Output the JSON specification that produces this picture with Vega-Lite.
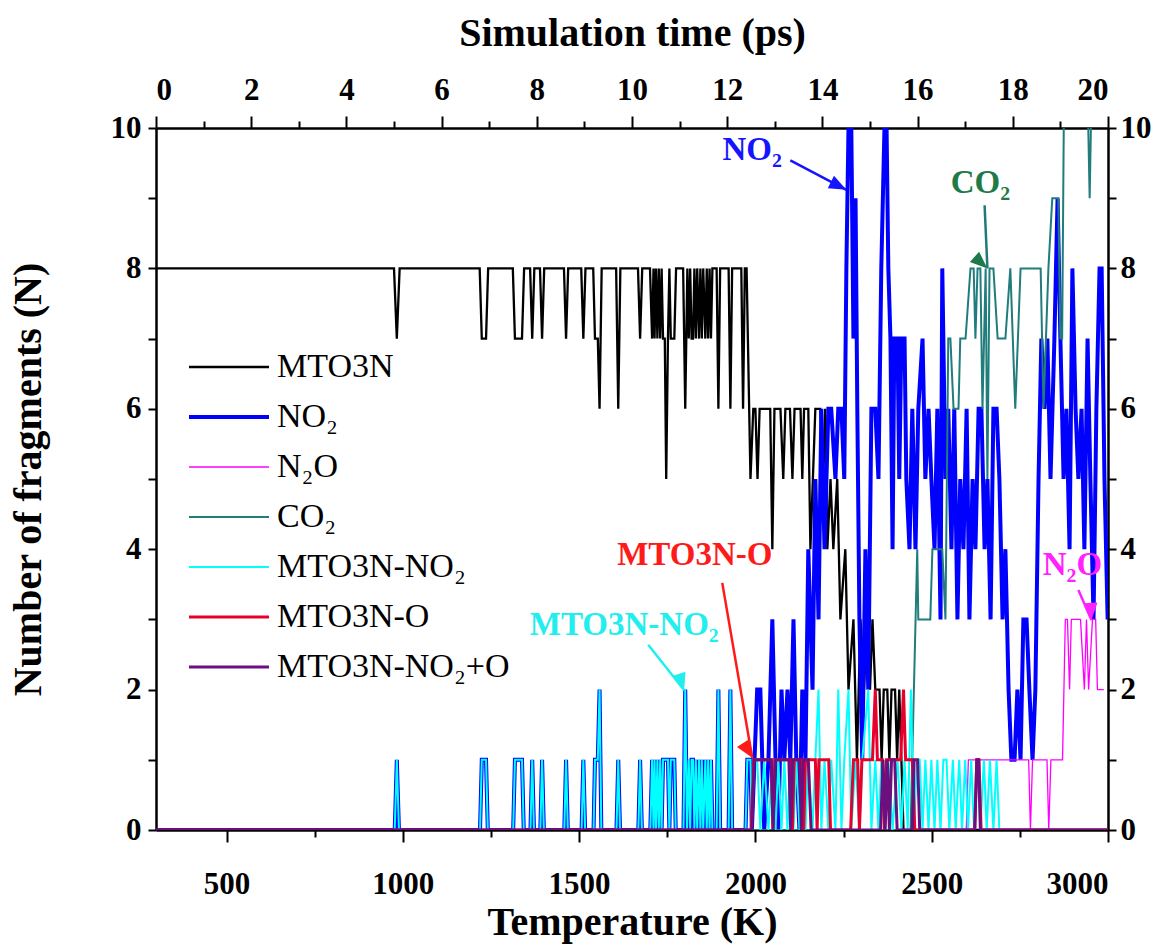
{
"$schema":"https://vega.github.io/schema/vega-lite/v6.json",
"width":952,"height":702,
"autosize":"none",
"padding":{"left":156,"top":128,"right":62,"bottom":114},
"background":"white",
"config":{"view":{"stroke":null},"font":"Liberation Serif",
 "axis":{"grid":false,"domainColor":"black","domainWidth":2.5,"tickColor":"black","tickWidth":2,"labelFont":"Liberation Serif","labelFontWeight":"bold","labelFontSize":31,"labelColor":"black","titleFont":"Liberation Serif","titleFontWeight":"bold","titleFontSize":40,"titleColor":"black"}},
"datasets":{
"lines":[
{"s":"MTO3N","T":300,"N":8},{"s":"MTO3N","T":975,"N":8},{"s":"MTO3N","T":983,"N":7},{"s":"MTO3N","T":991,"N":8},{"s":"MTO3N","T":1218,"N":8},{"s":"MTO3N","T":1224,"N":7},{"s":"MTO3N","T":1236,"N":7},{"s":"MTO3N","T":1242,"N":8},{"s":"MTO3N","T":1312,"N":8},{"s":"MTO3N","T":1318,"N":7},{"s":"MTO3N","T":1338,"N":7},{"s":"MTO3N","T":1344,"N":8},{"s":"MTO3N","T":1361,"N":8},{"s":"MTO3N","T":1367,"N":7},{"s":"MTO3N","T":1373,"N":8},{"s":"MTO3N","T":1389,"N":8},{"s":"MTO3N","T":1395,"N":7},{"s":"MTO3N","T":1401,"N":8},{"s":"MTO3N","T":1457,"N":8},{"s":"MTO3N","T":1463,"N":7},{"s":"MTO3N","T":1469,"N":8},{"s":"MTO3N","T":1506,"N":8},{"s":"MTO3N","T":1512,"N":7},{"s":"MTO3N","T":1518,"N":8},{"s":"MTO3N","T":1540,"N":8},{"s":"MTO3N","T":1545,"N":7},{"s":"MTO3N","T":1553,"N":7},{"s":"MTO3N","T":1558,"N":6},{"s":"MTO3N","T":1564,"N":8},{"s":"MTO3N","T":1605,"N":8},{"s":"MTO3N","T":1611,"N":6},{"s":"MTO3N","T":1617,"N":8},{"s":"MTO3N","T":1667,"N":8},{"s":"MTO3N","T":1673,"N":7},{"s":"MTO3N","T":1679,"N":8},{"s":"MTO3N","T":1701,"N":8},{"s":"MTO3N","T":1707,"N":7},{"s":"MTO3N","T":1711,"N":8},{"s":"MTO3N","T":1714,"N":7},{"s":"MTO3N","T":1718,"N":8},{"s":"MTO3N","T":1722,"N":7},{"s":"MTO3N","T":1726,"N":8},{"s":"MTO3N","T":1730,"N":7},{"s":"MTO3N","T":1734,"N":8},{"s":"MTO3N","T":1738,"N":7},{"s":"MTO3N","T":1743,"N":7},{"s":"MTO3N","T":1747,"N":5},{"s":"MTO3N","T":1752,"N":7},{"s":"MTO3N","T":1756,"N":8},{"s":"MTO3N","T":1760,"N":7},{"s":"MTO3N","T":1770,"N":7},{"s":"MTO3N","T":1775,"N":8},{"s":"MTO3N","T":1795,"N":8},{"s":"MTO3N","T":1801,"N":6},{"s":"MTO3N","T":1807,"N":8},{"s":"MTO3N","T":1811,"N":7},{"s":"MTO3N","T":1815,"N":8},{"s":"MTO3N","T":1819,"N":7},{"s":"MTO3N","T":1823,"N":7},{"s":"MTO3N","T":1827,"N":8},{"s":"MTO3N","T":1831,"N":7},{"s":"MTO3N","T":1835,"N":8},{"s":"MTO3N","T":1840,"N":7},{"s":"MTO3N","T":1844,"N":8},{"s":"MTO3N","T":1848,"N":7},{"s":"MTO3N","T":1852,"N":8},{"s":"MTO3N","T":1858,"N":7},{"s":"MTO3N","T":1862,"N":8},{"s":"MTO3N","T":1866,"N":7},{"s":"MTO3N","T":1870,"N":8},{"s":"MTO3N","T":1874,"N":7},{"s":"MTO3N","T":1878,"N":8},{"s":"MTO3N","T":1890,"N":8},{"s":"MTO3N","T":1895,"N":6},{"s":"MTO3N","T":1900,"N":8},{"s":"MTO3N","T":1924,"N":8},{"s":"MTO3N","T":1929,"N":6},{"s":"MTO3N","T":1934,"N":8},{"s":"MTO3N","T":1960,"N":8},{"s":"MTO3N","T":1965,"N":6},{"s":"MTO3N","T":1970,"N":8},{"s":"MTO3N","T":1975,"N":8},{"s":"MTO3N","T":1986,"N":5},{"s":"MTO3N","T":1994,"N":6},{"s":"MTO3N","T":2000,"N":6},{"s":"MTO3N","T":2006,"N":5},{"s":"MTO3N","T":2012,"N":6},{"s":"MTO3N","T":2042,"N":6},{"s":"MTO3N","T":2048,"N":4},{"s":"MTO3N","T":2054,"N":6},{"s":"MTO3N","T":2071,"N":6},{"s":"MTO3N","T":2079,"N":5},{"s":"MTO3N","T":2085,"N":6},{"s":"MTO3N","T":2098,"N":6},{"s":"MTO3N","T":2105,"N":5},{"s":"MTO3N","T":2111,"N":6},{"s":"MTO3N","T":2128,"N":6},{"s":"MTO3N","T":2133,"N":5},{"s":"MTO3N","T":2138,"N":6},{"s":"MTO3N","T":2150,"N":6},{"s":"MTO3N","T":2156,"N":4},{"s":"MTO3N","T":2163,"N":5},{"s":"MTO3N","T":2170,"N":6},{"s":"MTO3N","T":2184,"N":6},{"s":"MTO3N","T":2192,"N":5},{"s":"MTO3N","T":2198,"N":6},{"s":"MTO3N","T":2204,"N":4},{"s":"MTO3N","T":2213,"N":5},{"s":"MTO3N","T":2221,"N":4},{"s":"MTO3N","T":2232,"N":5},{"s":"MTO3N","T":2241,"N":3},{"s":"MTO3N","T":2255,"N":4},{"s":"MTO3N","T":2264,"N":2},{"s":"MTO3N","T":2278,"N":3},{"s":"MTO3N","T":2288,"N":1},{"s":"MTO3N","T":2298,"N":3},{"s":"MTO3N","T":2308,"N":2},{"s":"MTO3N","T":2317,"N":3},{"s":"MTO3N","T":2325,"N":2},{"s":"MTO3N","T":2332,"N":3},{"s":"MTO3N","T":2340,"N":2},{"s":"MTO3N","T":2352,"N":2},{"s":"MTO3N","T":2358,"N":1},{"s":"MTO3N","T":2364,"N":2},{"s":"MTO3N","T":2374,"N":2},{"s":"MTO3N","T":2380,"N":1},{"s":"MTO3N","T":2386,"N":2},{"s":"MTO3N","T":2396,"N":2},{"s":"MTO3N","T":2402,"N":1},{"s":"MTO3N","T":2408,"N":2},{"s":"MTO3N","T":2414,"N":1},{"s":"MTO3N","T":2420,"N":0},{"s":"MTO3N","T":3000,"N":0},
{"s":"NO₂","T":300,"N":0},{"s":"NO₂","T":977,"N":0},{"s":"NO₂","T":983,"N":1},{"s":"NO₂","T":989,"N":0},{"s":"NO₂","T":1219,"N":0},{"s":"NO₂","T":1224,"N":1},{"s":"NO₂","T":1236,"N":1},{"s":"NO₂","T":1241,"N":0},{"s":"NO₂","T":1313,"N":0},{"s":"NO₂","T":1318,"N":1},{"s":"NO₂","T":1338,"N":1},{"s":"NO₂","T":1343,"N":0},{"s":"NO₂","T":1362,"N":0},{"s":"NO₂","T":1367,"N":1},{"s":"NO₂","T":1372,"N":0},{"s":"NO₂","T":1390,"N":0},{"s":"NO₂","T":1395,"N":1},{"s":"NO₂","T":1400,"N":0},{"s":"NO₂","T":1458,"N":0},{"s":"NO₂","T":1463,"N":1},{"s":"NO₂","T":1468,"N":0},{"s":"NO₂","T":1507,"N":0},{"s":"NO₂","T":1512,"N":1},{"s":"NO₂","T":1517,"N":0},{"s":"NO₂","T":1541,"N":0},{"s":"NO₂","T":1545,"N":1},{"s":"NO₂","T":1553,"N":1},{"s":"NO₂","T":1558,"N":2},{"s":"NO₂","T":1563,"N":0},{"s":"NO₂","T":1606,"N":0},{"s":"NO₂","T":1611,"N":1},{"s":"NO₂","T":1616,"N":0},{"s":"NO₂","T":1668,"N":0},{"s":"NO₂","T":1673,"N":1},{"s":"NO₂","T":1678,"N":0},{"s":"NO₂","T":1702,"N":0},{"s":"NO₂","T":1707,"N":1},{"s":"NO₂","T":1711,"N":0},{"s":"NO₂","T":1714,"N":1},{"s":"NO₂","T":1718,"N":0},{"s":"NO₂","T":1722,"N":1},{"s":"NO₂","T":1726,"N":0},{"s":"NO₂","T":1730,"N":1},{"s":"NO₂","T":1734,"N":0},{"s":"NO₂","T":1738,"N":1},{"s":"NO₂","T":1752,"N":1},{"s":"NO₂","T":1756,"N":0},{"s":"NO₂","T":1760,"N":1},{"s":"NO₂","T":1770,"N":1},{"s":"NO₂","T":1774,"N":0},{"s":"NO₂","T":1796,"N":0},{"s":"NO₂","T":1801,"N":2},{"s":"NO₂","T":1806,"N":0},{"s":"NO₂","T":1811,"N":1},{"s":"NO₂","T":1815,"N":0},{"s":"NO₂","T":1819,"N":1},{"s":"NO₂","T":1823,"N":1},{"s":"NO₂","T":1827,"N":0},{"s":"NO₂","T":1831,"N":1},{"s":"NO₂","T":1835,"N":0},{"s":"NO₂","T":1840,"N":1},{"s":"NO₂","T":1844,"N":0},{"s":"NO₂","T":1848,"N":1},{"s":"NO₂","T":1852,"N":0},{"s":"NO₂","T":1858,"N":1},{"s":"NO₂","T":1862,"N":0},{"s":"NO₂","T":1866,"N":1},{"s":"NO₂","T":1870,"N":0},{"s":"NO₂","T":1874,"N":1},{"s":"NO₂","T":1878,"N":0},{"s":"NO₂","T":1890,"N":0},{"s":"NO₂","T":1895,"N":2},{"s":"NO₂","T":1900,"N":0},{"s":"NO₂","T":1924,"N":0},{"s":"NO₂","T":1929,"N":2},{"s":"NO₂","T":1934,"N":0},{"s":"NO₂","T":1972,"N":0},{"s":"NO₂","T":1977,"N":1},{"s":"NO₂","T":1986,"N":1},{"s":"NO₂","T":1990,"N":0},
{"s":"NO₂","T":2005,"N":2},{"s":"NO₂","T":2014,"N":2},{"s":"NO₂","T":2025,"N":0},{"s":"NO₂","T":2037,"N":1},{"s":"NO₂","T":2048,"N":3},{"s":"NO₂","T":2057,"N":1},{"s":"NO₂","T":2065,"N":0},{"s":"NO₂","T":2074,"N":2},{"s":"NO₂","T":2082,"N":1},{"s":"NO₂","T":2091,"N":2},{"s":"NO₂","T":2099,"N":1},{"s":"NO₂","T":2108,"N":3},{"s":"NO₂","T":2116,"N":1},{"s":"NO₂","T":2125,"N":0},{"s":"NO₂","T":2133,"N":2},{"s":"NO₂","T":2142,"N":1},{"s":"NO₂","T":2150,"N":4},{"s":"NO₂","T":2162,"N":2},{"s":"NO₂","T":2170,"N":5},{"s":"NO₂","T":2179,"N":3},{"s":"NO₂","T":2187,"N":6},{"s":"NO₂","T":2196,"N":4},{"s":"NO₂","T":2207,"N":6},{"s":"NO₂","T":2215,"N":6},{"s":"NO₂","T":2227,"N":5},{"s":"NO₂","T":2235,"N":6},{"s":"NO₂","T":2244,"N":6},{"s":"NO₂","T":2252,"N":5},{"s":"NO₂","T":2258,"N":8},{"s":"NO₂","T":2264,"N":10},{"s":"NO₂","T":2272,"N":10},{"s":"NO₂","T":2278,"N":7},{"s":"NO₂","T":2284,"N":9},{"s":"NO₂","T":2289,"N":6},{"s":"NO₂","T":2295,"N":3},{"s":"NO₂","T":2303,"N":1},{"s":"NO₂","T":2312,"N":4},{"s":"NO₂","T":2320,"N":2},{"s":"NO₂","T":2329,"N":6},{"s":"NO₂","T":2340,"N":6},{"s":"NO₂","T":2349,"N":5},{"s":"NO₂","T":2357,"N":8},{"s":"NO₂","T":2366,"N":10},{"s":"NO₂","T":2372,"N":10},{"s":"NO₂","T":2377,"N":8},{"s":"NO₂","T":2383,"N":7},{"s":"NO₂","T":2389,"N":4},{"s":"NO₂","T":2394,"N":7},{"s":"NO₂","T":2403,"N":7},{"s":"NO₂","T":2408,"N":5},{"s":"NO₂","T":2414,"N":7},{"s":"NO₂","T":2423,"N":7},{"s":"NO₂","T":2428,"N":5},{"s":"NO₂","T":2437,"N":4},{"s":"NO₂","T":2445,"N":6},{"s":"NO₂","T":2454,"N":4},{"s":"NO₂","T":2462,"N":6},{"s":"NO₂","T":2474,"N":7},{"s":"NO₂","T":2482,"N":5},{"s":"NO₂","T":2491,"N":6},{"s":"NO₂","T":2499,"N":5},{"s":"NO₂","T":2508,"N":4},{"s":"NO₂","T":2516,"N":6},{"s":"NO₂","T":2525,"N":3},{"s":"NO₂","T":2530,"N":8},{"s":"NO₂","T":2539,"N":5},{"s":"NO₂","T":2547,"N":6},{"s":"NO₂","T":2556,"N":4},{"s":"NO₂","T":2564,"N":6},{"s":"NO₂","T":2573,"N":3},{"s":"NO₂","T":2581,"N":5},{"s":"NO₂","T":2590,"N":4},{"s":"NO₂","T":2599,"N":6},{"s":"NO₂","T":2607,"N":3},{"s":"NO₂","T":2616,"N":5},{"s":"NO₂","T":2624,"N":4},{"s":"NO₂","T":2633,"N":6},{"s":"NO₂","T":2641,"N":6},{"s":"NO₂","T":2650,"N":4},{"s":"NO₂","T":2658,"N":5},{"s":"NO₂","T":2667,"N":3},{"s":"NO₂","T":2675,"N":6},{"s":"NO₂","T":2684,"N":6},{"s":"NO₂","T":2692,"N":5},{"s":"NO₂","T":2701,"N":3},{"s":"NO₂","T":2709,"N":4},{"s":"NO₂","T":2718,"N":2},{"s":"NO₂","T":2726,"N":1},{"s":"NO₂","T":2735,"N":1},{"s":"NO₂","T":2743,"N":2},{"s":"NO₂","T":2752,"N":1},{"s":"NO₂","T":2760,"N":3},{"s":"NO₂","T":2769,"N":3},{"s":"NO₂","T":2777,"N":2},{"s":"NO₂","T":2786,"N":1},{"s":"NO₂","T":2794,"N":2},{"s":"NO₂","T":2803,"N":5},{"s":"NO₂","T":2811,"N":7},{"s":"NO₂","T":2820,"N":6},{"s":"NO₂","T":2828,"N":7},{"s":"NO₂","T":2837,"N":5},{"s":"NO₂","T":2848,"N":7},{"s":"NO₂","T":2857,"N":9},{"s":"NO₂","T":2865,"N":7},{"s":"NO₂","T":2874,"N":5},{"s":"NO₂","T":2882,"N":6},{"s":"NO₂","T":2891,"N":4},{"s":"NO₂","T":2899,"N":8},{"s":"NO₂","T":2908,"N":6},{"s":"NO₂","T":2916,"N":5},{"s":"NO₂","T":2925,"N":6},{"s":"NO₂","T":2933,"N":4},{"s":"NO₂","T":2942,"N":7},{"s":"NO₂","T":2950,"N":5},{"s":"NO₂","T":2959,"N":3},{"s":"NO₂","T":2967,"N":6},{"s":"NO₂","T":2976,"N":8},{"s":"NO₂","T":2982,"N":8},{"s":"NO₂","T":2990,"N":5},{"s":"NO₂","T":2999,"N":3},
{"s":"N₂O","T":300,"N":0},{"s":"N₂O","T":2598,"N":0},{"s":"N₂O","T":2604,"N":1},{"s":"N₂O","T":2775,"N":1},{"s":"N₂O","T":2780,"N":0},{"s":"N₂O","T":2786,"N":1},{"s":"N₂O","T":2827,"N":1},{"s":"N₂O","T":2832,"N":0},{"s":"N₂O","T":2838,"N":1},{"s":"N₂O","T":2871,"N":1},{"s":"N₂O","T":2879,"N":3},{"s":"N₂O","T":2885,"N":3},{"s":"N₂O","T":2891,"N":2},{"s":"N₂O","T":2896,"N":3},{"s":"N₂O","T":2922,"N":3},{"s":"N₂O","T":2933,"N":2},{"s":"N₂O","T":2939,"N":3},{"s":"N₂O","T":2945,"N":2},{"s":"N₂O","T":2956,"N":3},{"s":"N₂O","T":2965,"N":3},{"s":"N₂O","T":2970,"N":2},{"s":"N₂O","T":2988,"N":2},
{"s":"CO₂","T":300,"N":0},{"s":"CO₂","T":2440,"N":0},{"s":"CO₂","T":2459,"N":4},{"s":"CO₂","T":2462,"N":3},{"s":"CO₂","T":2496,"N":3},{"s":"CO₂","T":2502,"N":4},{"s":"CO₂","T":2530,"N":4},{"s":"CO₂","T":2539,"N":3},{"s":"CO₂","T":2547,"N":7},{"s":"CO₂","T":2553,"N":7},{"s":"CO₂","T":2562,"N":6},{"s":"CO₂","T":2576,"N":6},{"s":"CO₂","T":2581,"N":7},{"s":"CO₂","T":2596,"N":7},{"s":"CO₂","T":2610,"N":8},{"s":"CO₂","T":2619,"N":8},{"s":"CO₂","T":2624,"N":7},{"s":"CO₂","T":2630,"N":8},{"s":"CO₂","T":2638,"N":8},{"s":"CO₂","T":2644,"N":6},{"s":"CO₂","T":2653,"N":8},{"s":"CO₂","T":2658,"N":5},{"s":"CO₂","T":2664,"N":8},{"s":"CO₂","T":2675,"N":8},{"s":"CO₂","T":2687,"N":7},{"s":"CO₂","T":2709,"N":7},{"s":"CO₂","T":2723,"N":8},{"s":"CO₂","T":2737,"N":6},{"s":"CO₂","T":2752,"N":8},{"s":"CO₂","T":2809,"N":8},{"s":"CO₂","T":2817,"N":6},{"s":"CO₂","T":2831,"N":8},{"s":"CO₂","T":2842,"N":9},{"s":"CO₂","T":2859,"N":9},{"s":"CO₂","T":2865,"N":7},{"s":"CO₂","T":2870,"N":7},{"s":"CO₂","T":2876,"N":11},{"s":"CO₂","T":2940,"N":11},{"s":"CO₂","T":2948,"N":9},{"s":"CO₂","T":2955,"N":11},{"s":"CO₂","T":3000,"N":11},
{"s":"MTO3N-NO₂","T":300,"N":0},{"s":"MTO3N-NO₂","T":977,"N":0},{"s":"MTO3N-NO₂","T":983,"N":1},{"s":"MTO3N-NO₂","T":989,"N":0},{"s":"MTO3N-NO₂","T":1219,"N":0},{"s":"MTO3N-NO₂","T":1224,"N":1},{"s":"MTO3N-NO₂","T":1236,"N":1},{"s":"MTO3N-NO₂","T":1241,"N":0},{"s":"MTO3N-NO₂","T":1313,"N":0},{"s":"MTO3N-NO₂","T":1318,"N":1},{"s":"MTO3N-NO₂","T":1338,"N":1},{"s":"MTO3N-NO₂","T":1343,"N":0},{"s":"MTO3N-NO₂","T":1362,"N":0},{"s":"MTO3N-NO₂","T":1367,"N":1},{"s":"MTO3N-NO₂","T":1372,"N":0},{"s":"MTO3N-NO₂","T":1390,"N":0},{"s":"MTO3N-NO₂","T":1395,"N":1},{"s":"MTO3N-NO₂","T":1400,"N":0},{"s":"MTO3N-NO₂","T":1458,"N":0},{"s":"MTO3N-NO₂","T":1463,"N":1},{"s":"MTO3N-NO₂","T":1468,"N":0},{"s":"MTO3N-NO₂","T":1507,"N":0},{"s":"MTO3N-NO₂","T":1512,"N":1},{"s":"MTO3N-NO₂","T":1517,"N":0},{"s":"MTO3N-NO₂","T":1541,"N":0},{"s":"MTO3N-NO₂","T":1545,"N":1},{"s":"MTO3N-NO₂","T":1553,"N":1},{"s":"MTO3N-NO₂","T":1558,"N":2},{"s":"MTO3N-NO₂","T":1563,"N":0},{"s":"MTO3N-NO₂","T":1606,"N":0},{"s":"MTO3N-NO₂","T":1611,"N":1},{"s":"MTO3N-NO₂","T":1616,"N":0},{"s":"MTO3N-NO₂","T":1668,"N":0},{"s":"MTO3N-NO₂","T":1673,"N":1},{"s":"MTO3N-NO₂","T":1678,"N":0},{"s":"MTO3N-NO₂","T":1702,"N":0},{"s":"MTO3N-NO₂","T":1707,"N":1},{"s":"MTO3N-NO₂","T":1711,"N":0},{"s":"MTO3N-NO₂","T":1714,"N":1},{"s":"MTO3N-NO₂","T":1718,"N":0},{"s":"MTO3N-NO₂","T":1722,"N":1},{"s":"MTO3N-NO₂","T":1726,"N":0},{"s":"MTO3N-NO₂","T":1730,"N":1},{"s":"MTO3N-NO₂","T":1734,"N":0},{"s":"MTO3N-NO₂","T":1738,"N":1},{"s":"MTO3N-NO₂","T":1752,"N":1},{"s":"MTO3N-NO₂","T":1756,"N":0},{"s":"MTO3N-NO₂","T":1760,"N":1},{"s":"MTO3N-NO₂","T":1770,"N":1},{"s":"MTO3N-NO₂","T":1774,"N":0},{"s":"MTO3N-NO₂","T":1796,"N":0},{"s":"MTO3N-NO₂","T":1801,"N":2},{"s":"MTO3N-NO₂","T":1806,"N":0},{"s":"MTO3N-NO₂","T":1811,"N":1},{"s":"MTO3N-NO₂","T":1815,"N":0},{"s":"MTO3N-NO₂","T":1819,"N":1},{"s":"MTO3N-NO₂","T":1823,"N":1},{"s":"MTO3N-NO₂","T":1827,"N":0},{"s":"MTO3N-NO₂","T":1831,"N":1},{"s":"MTO3N-NO₂","T":1835,"N":0},{"s":"MTO3N-NO₂","T":1840,"N":1},{"s":"MTO3N-NO₂","T":1844,"N":0},{"s":"MTO3N-NO₂","T":1848,"N":1},{"s":"MTO3N-NO₂","T":1852,"N":0},{"s":"MTO3N-NO₂","T":1858,"N":1},{"s":"MTO3N-NO₂","T":1862,"N":0},{"s":"MTO3N-NO₂","T":1866,"N":1},{"s":"MTO3N-NO₂","T":1870,"N":0},{"s":"MTO3N-NO₂","T":1874,"N":1},{"s":"MTO3N-NO₂","T":1878,"N":0},{"s":"MTO3N-NO₂","T":1890,"N":0},{"s":"MTO3N-NO₂","T":1895,"N":2},{"s":"MTO3N-NO₂","T":1900,"N":0},{"s":"MTO3N-NO₂","T":1924,"N":0},{"s":"MTO3N-NO₂","T":1929,"N":2},{"s":"MTO3N-NO₂","T":1934,"N":0},{"s":"MTO3N-NO₂","T":1972,"N":0},{"s":"MTO3N-NO₂","T":1977,"N":1},{"s":"MTO3N-NO₂","T":1986,"N":1},{"s":"MTO3N-NO₂","T":1990,"N":0},
{"s":"MTO3N-NO₂","T":1994,"N":1},{"s":"MTO3N-NO₂","T":2005,"N":1},{"s":"MTO3N-NO₂","T":2014,"N":0},{"s":"MTO3N-NO₂","T":2025,"N":1},{"s":"MTO3N-NO₂","T":2037,"N":0},{"s":"MTO3N-NO₂","T":2048,"N":1},{"s":"MTO3N-NO₂","T":2057,"N":0},{"s":"MTO3N-NO₂","T":2065,"N":1},{"s":"MTO3N-NO₂","T":2074,"N":0},{"s":"MTO3N-NO₂","T":2082,"N":1},{"s":"MTO3N-NO₂","T":2091,"N":0},{"s":"MTO3N-NO₂","T":2099,"N":1},{"s":"MTO3N-NO₂","T":2108,"N":0},{"s":"MTO3N-NO₂","T":2116,"N":1},{"s":"MTO3N-NO₂","T":2125,"N":0},{"s":"MTO3N-NO₂","T":2133,"N":1},{"s":"MTO3N-NO₂","T":2142,"N":0},{"s":"MTO3N-NO₂","T":2150,"N":1},{"s":"MTO3N-NO₂","T":2162,"N":0},{"s":"MTO3N-NO₂","T":2170,"N":1},{"s":"MTO3N-NO₂","T":2179,"N":2},{"s":"MTO3N-NO₂","T":2187,"N":0},{"s":"MTO3N-NO₂","T":2196,"N":1},{"s":"MTO3N-NO₂","T":2207,"N":0},{"s":"MTO3N-NO₂","T":2215,"N":1},{"s":"MTO3N-NO₂","T":2227,"N":0},{"s":"MTO3N-NO₂","T":2235,"N":2},{"s":"MTO3N-NO₂","T":2244,"N":0},{"s":"MTO3N-NO₂","T":2252,"N":1},{"s":"MTO3N-NO₂","T":2264,"N":2},{"s":"MTO3N-NO₂","T":2272,"N":0},{"s":"MTO3N-NO₂","T":2284,"N":1},{"s":"MTO3N-NO₂","T":2295,"N":0},{"s":"MTO3N-NO₂","T":2303,"N":1},{"s":"MTO3N-NO₂","T":2320,"N":2},{"s":"MTO3N-NO₂","T":2329,"N":0},{"s":"MTO3N-NO₂","T":2340,"N":1},{"s":"MTO3N-NO₂","T":2349,"N":0},{"s":"MTO3N-NO₂","T":2357,"N":1},{"s":"MTO3N-NO₂","T":2366,"N":0},{"s":"MTO3N-NO₂","T":2377,"N":1},{"s":"MTO3N-NO₂","T":2389,"N":0},{"s":"MTO3N-NO₂","T":2403,"N":1},{"s":"MTO3N-NO₂","T":2414,"N":0},{"s":"MTO3N-NO₂","T":2423,"N":1},{"s":"MTO3N-NO₂","T":2432,"N":0},{"s":"MTO3N-NO₂","T":2441,"N":2},{"s":"MTO3N-NO₂","T":2450,"N":0},{"s":"MTO3N-NO₂","T":2458,"N":1},{"s":"MTO3N-NO₂","T":2466,"N":1},{"s":"MTO3N-NO₂","T":2474,"N":0},{"s":"MTO3N-NO₂","T":2482,"N":1},{"s":"MTO3N-NO₂","T":2491,"N":0},{"s":"MTO3N-NO₂","T":2499,"N":1},{"s":"MTO3N-NO₂","T":2508,"N":0},{"s":"MTO3N-NO₂","T":2516,"N":1},{"s":"MTO3N-NO₂","T":2525,"N":0},{"s":"MTO3N-NO₂","T":2533,"N":1},{"s":"MTO3N-NO₂","T":2542,"N":1},{"s":"MTO3N-NO₂","T":2550,"N":0},{"s":"MTO3N-NO₂","T":2560,"N":1},{"s":"MTO3N-NO₂","T":2568,"N":0},{"s":"MTO3N-NO₂","T":2578,"N":1},{"s":"MTO3N-NO₂","T":2586,"N":0},{"s":"MTO3N-NO₂","T":2595,"N":1},{"s":"MTO3N-NO₂","T":2603,"N":0},{"s":"MTO3N-NO₂","T":2612,"N":1},{"s":"MTO3N-NO₂","T":2620,"N":0},{"s":"MTO3N-NO₂","T":2630,"N":1},{"s":"MTO3N-NO₂","T":2638,"N":0},{"s":"MTO3N-NO₂","T":2648,"N":1},{"s":"MTO3N-NO₂","T":2656,"N":0},{"s":"MTO3N-NO₂","T":2665,"N":1},{"s":"MTO3N-NO₂","T":2675,"N":0},{"s":"MTO3N-NO₂","T":2684,"N":1},{"s":"MTO3N-NO₂","T":2692,"N":0},{"s":"MTO3N-NO₂","T":3000,"N":0},
{"s":"MTO3N-O","T":300,"N":0},{"s":"MTO3N-O","T":1988,"N":0},{"s":"MTO3N-O","T":1995,"N":1},{"s":"MTO3N-O","T":2045,"N":1},{"s":"MTO3N-O","T":2050,"N":0},{"s":"MTO3N-O","T":2055,"N":1},{"s":"MTO3N-O","T":2100,"N":1},{"s":"MTO3N-O","T":2105,"N":0},{"s":"MTO3N-O","T":2110,"N":1},{"s":"MTO3N-O","T":2130,"N":1},{"s":"MTO3N-O","T":2137,"N":0},{"s":"MTO3N-O","T":2142,"N":1},{"s":"MTO3N-O","T":2170,"N":1},{"s":"MTO3N-O","T":2175,"N":0},{"s":"MTO3N-O","T":2180,"N":1},{"s":"MTO3N-O","T":2208,"N":1},{"s":"MTO3N-O","T":2213,"N":0},{"s":"MTO3N-O","T":2270,"N":0},{"s":"MTO3N-O","T":2278,"N":1},{"s":"MTO3N-O","T":2290,"N":1},{"s":"MTO3N-O","T":2295,"N":0},{"s":"MTO3N-O","T":2302,"N":1},{"s":"MTO3N-O","T":2332,"N":1},{"s":"MTO3N-O","T":2340,"N":2},{"s":"MTO3N-O","T":2346,"N":1},{"s":"MTO3N-O","T":2360,"N":1},{"s":"MTO3N-O","T":2366,"N":0},{"s":"MTO3N-O","T":2372,"N":1},{"s":"MTO3N-O","T":2412,"N":1},{"s":"MTO3N-O","T":2420,"N":2},{"s":"MTO3N-O","T":2426,"N":1},{"s":"MTO3N-O","T":2445,"N":1},{"s":"MTO3N-O","T":2452,"N":0},{"s":"MTO3N-O","T":2622,"N":0},{"s":"MTO3N-O","T":2628,"N":1},{"s":"MTO3N-O","T":2634,"N":1},{"s":"MTO3N-O","T":2640,"N":0},{"s":"MTO3N-O","T":3000,"N":0},
{"s":"MTO3N-NO₂+O","T":300,"N":0},{"s":"MTO3N-NO₂+O","T":1990,"N":0},{"s":"MTO3N-NO₂+O","T":1997,"N":1},{"s":"MTO3N-NO₂+O","T":2045,"N":1},{"s":"MTO3N-NO₂+O","T":2050,"N":0},{"s":"MTO3N-NO₂+O","T":2057,"N":1},{"s":"MTO3N-NO₂+O","T":2095,"N":1},{"s":"MTO3N-NO₂+O","T":2100,"N":0},{"s":"MTO3N-NO₂+O","T":2106,"N":1},{"s":"MTO3N-NO₂+O","T":2125,"N":1},{"s":"MTO3N-NO₂+O","T":2130,"N":0},{"s":"MTO3N-NO₂+O","T":2136,"N":1},{"s":"MTO3N-NO₂+O","T":2150,"N":1},{"s":"MTO3N-NO₂+O","T":2158,"N":0},{"s":"MTO3N-NO₂+O","T":2355,"N":0},{"s":"MTO3N-NO₂+O","T":2362,"N":1},{"s":"MTO3N-NO₂+O","T":2368,"N":0},{"s":"MTO3N-NO₂+O","T":2374,"N":1},{"s":"MTO3N-NO₂+O","T":2380,"N":0},{"s":"MTO3N-NO₂+O","T":2386,"N":1},{"s":"MTO3N-NO₂+O","T":2395,"N":1},{"s":"MTO3N-NO₂+O","T":2402,"N":0},{"s":"MTO3N-NO₂+O","T":2445,"N":0},{"s":"MTO3N-NO₂+O","T":2450,"N":1},{"s":"MTO3N-NO₂+O","T":2460,"N":1},{"s":"MTO3N-NO₂+O","T":2466,"N":0},{"s":"MTO3N-NO₂+O","T":2622,"N":0},{"s":"MTO3N-NO₂+O","T":2628,"N":1},{"s":"MTO3N-NO₂+O","T":2633,"N":1},{"s":"MTO3N-NO₂+O","T":2638,"N":0},{"s":"MTO3N-NO₂+O","T":3000,"N":0}
],
"ann":[
{"s":"NO₂","label":"NO₂","Tt":1991,"Nt":9.69,"Ta":2099,"Na":9.54,"Tb":2258,"Nb":9.12},
{"s":"CO₂","label":"CO₂","Tt":2638,"Nt":9.22,"Ta":2650,"Na":8.9,"Tb":2658,"Nb":8.0},
{"s":"MTO3N-O","label":"MTO3N-O","Tt":1828,"Nt":3.92,"Ta":1906,"Na":3.52,"Tb":1991,"Nb":1.03},
{"s":"MTO3N-NO₂","label":"MTO3N-NO₂","Tt":1628,"Nt":2.92,"Ta":1696,"Na":2.64,"Tb":1798,"Nb":1.99},
{"s":"N₂O","label":"N₂O","Tt":2899,"Nt":3.77,"Ta":2916,"Na":3.42,"Tb":2953,"Nb":2.99}
],
"axes2":[{"t":0,"n":0},{"t":20,"n":10}]
},
"layer":[
 {"layer":[
  {"data":{"name":"lines"},
   "mark":{"type":"line","clip":true,"strokeMiterLimit":4},
   "encoding":{
    "x":{"field":"T","type":"quantitative","scale":{"domain":[300,3000],"nice":false,"zero":false},
     "axis":{"orient":"bottom","values":[500,750,1000,1250,1500,1750,2000,2250,2500,2750,3000],"format":"d","labelExpr":"datum.value % 500 === 0 ? datum.label : ''","tickSize":{"condition":{"test":"datum.value % 500 === 0","value":12},"value":7},"labelPadding":27,"title":"Temperature (K)","titleX":476,"titleY":104,"titleBaseline":"alphabetic"}},
    "y":{"field":"N","type":"quantitative","scale":{"domain":[0,10],"nice":false,"zero":false},
     "axis":{"orient":"left","values":[0,1,2,3,4,5,6,7,8,9,10],"format":"d","labelExpr":"datum.value % 2 === 0 ? datum.label : ''","tickSize":8,"labelPadding":7,"labelBaseline":"middle","title":"Number of fragments (N)","titleX":-116,"titleY":351,"titleAngle":270,"titleBaseline":"alphabetic"}},
    "color":{"field":"s","type":"nominal","scale":{"domain":["MTO3N","NO₂","N₂O","CO₂","MTO3N-NO₂","MTO3N-O","MTO3N-NO₂+O"],"range":["#000000","#0000ff","#ff00ff","#217c7c","#00ffff","#e8002c","#6d0f7e"]},
     "legend":{"orient":"none","legendX":56,"legendY":222,"title":null,"symbolType":"M-4,0H4","symbolSize":400,"labelFont":"Liberation Serif","labelFontSize":34,"labelFontWeight":"normal","labelColor":"black","rowPadding":16,"labelOffset":31,"labelLimit":400}},
    "strokeWidth":{"field":"s","type":"nominal","scale":{"type":"ordinal","domain":["MTO3N","NO₂","N₂O","CO₂","MTO3N-NO₂","MTO3N-O","MTO3N-NO₂+O"],"range":[2.3,4,1.3,2,2,3,3]}}
   }},
  {"data":{"name":"ann"},
   "mark":{"type":"rule","strokeWidth":2.5},
   "encoding":{
    "x":{"field":"Ta","type":"quantitative","scale":{"domain":[300,3000],"nice":false,"zero":false}},
    "y":{"field":"Na","type":"quantitative","scale":{"domain":[0,10],"nice":false,"zero":false}},
    "x2":{"field":"Tb"},"y2":{"field":"Nb"},
    "stroke":{"field":"s","type":"nominal","legend":null,"scale":{"domain":["NO₂","CO₂","MTO3N-O","MTO3N-NO₂","N₂O"],"range":["#1414ff","#1f7b7b","#ff1a1a","#22eeee","#ff22ff"]}}
   }},
  {"data":{"name":"ann"},
   "mark":{"type":"point","filled":true,"opacity":1,"size":1200,"strokeWidth":0,"shape":"M0,0L-0.4,1L0.4,1Z"},
   "encoding":{
    "x":{"field":"Tb","type":"quantitative","scale":{"domain":[300,3000],"nice":false,"zero":false}},
    "y":{"field":"Nb","type":"quantitative","scale":{"domain":[0,10],"nice":false,"zero":false}},
    "angle":{"field":"s","type":"nominal","legend":null,"scale":{"domain":["NO₂","CO₂","MTO3N-O","MTO3N-NO₂","N₂O"],"range":[116.6,177.3,170.3,141.3,156.6]}},
    "fill":{"field":"s","type":"nominal","legend":null,"scale":{"domain":["NO₂","CO₂","MTO3N-O","MTO3N-NO₂","N₂O"],"range":["#1414ff","#1f7a4a","#ff1a1a","#22eeee","#ff22ff"]}}
   }},
  {"data":{"name":"ann"},
   "mark":{"type":"text","font":"Liberation Serif","fontWeight":"bold","fontSize":33,"align":"center","baseline":"middle"},
   "encoding":{
    "x":{"field":"Tt","type":"quantitative","scale":{"domain":[300,3000],"nice":false,"zero":false}},
    "y":{"field":"Nt","type":"quantitative","scale":{"domain":[0,10],"nice":false,"zero":false}},
    "text":{"field":"label"},
    "fill":{"field":"s","type":"nominal","legend":null,"scale":{"domain":["NO₂","CO₂","MTO3N-O","MTO3N-NO₂","N₂O"],"range":["#1414ff","#1f7a4a","#ff1a1a","#22eeee","#ff22ff"]}}
   }}
 ]},
 {"data":{"name":"axes2"},
  "mark":{"type":"point","opacity":0},
  "encoding":{
   "x":{"field":"t","type":"quantitative","scale":{"domain":[0,20],"nice":false,"zero":false},
    "axis":{"orient":"top","values":[0,1,2,3,4,5,6,7,8,9,10,11,12,13,14,15,16,17,18,19,20],"labelExpr":"datum.value % 2 === 0 ? datum.label : ''","tickSize":{"condition":{"test":"datum.value % 2 === 0","value":12},"value":7},"labelPadding":10,"title":"Simulation time (ps)","titleX":476,"titleY":-83,"titleBaseline":"alphabetic"}},
   "y":{"field":"n","type":"quantitative","scale":{"domain":[0,10],"nice":false,"zero":false},
    "axis":{"orient":"right","values":[0,1,2,3,4,5,6,7,8,9,10],"labelExpr":"datum.value % 2 === 0 ? datum.label : ''","tickSize":8,"labelPadding":4,"labelBaseline":"middle","title":null}}
  }}
],
"resolve":{"scale":{"x":"independent","y":"independent"}}
}
